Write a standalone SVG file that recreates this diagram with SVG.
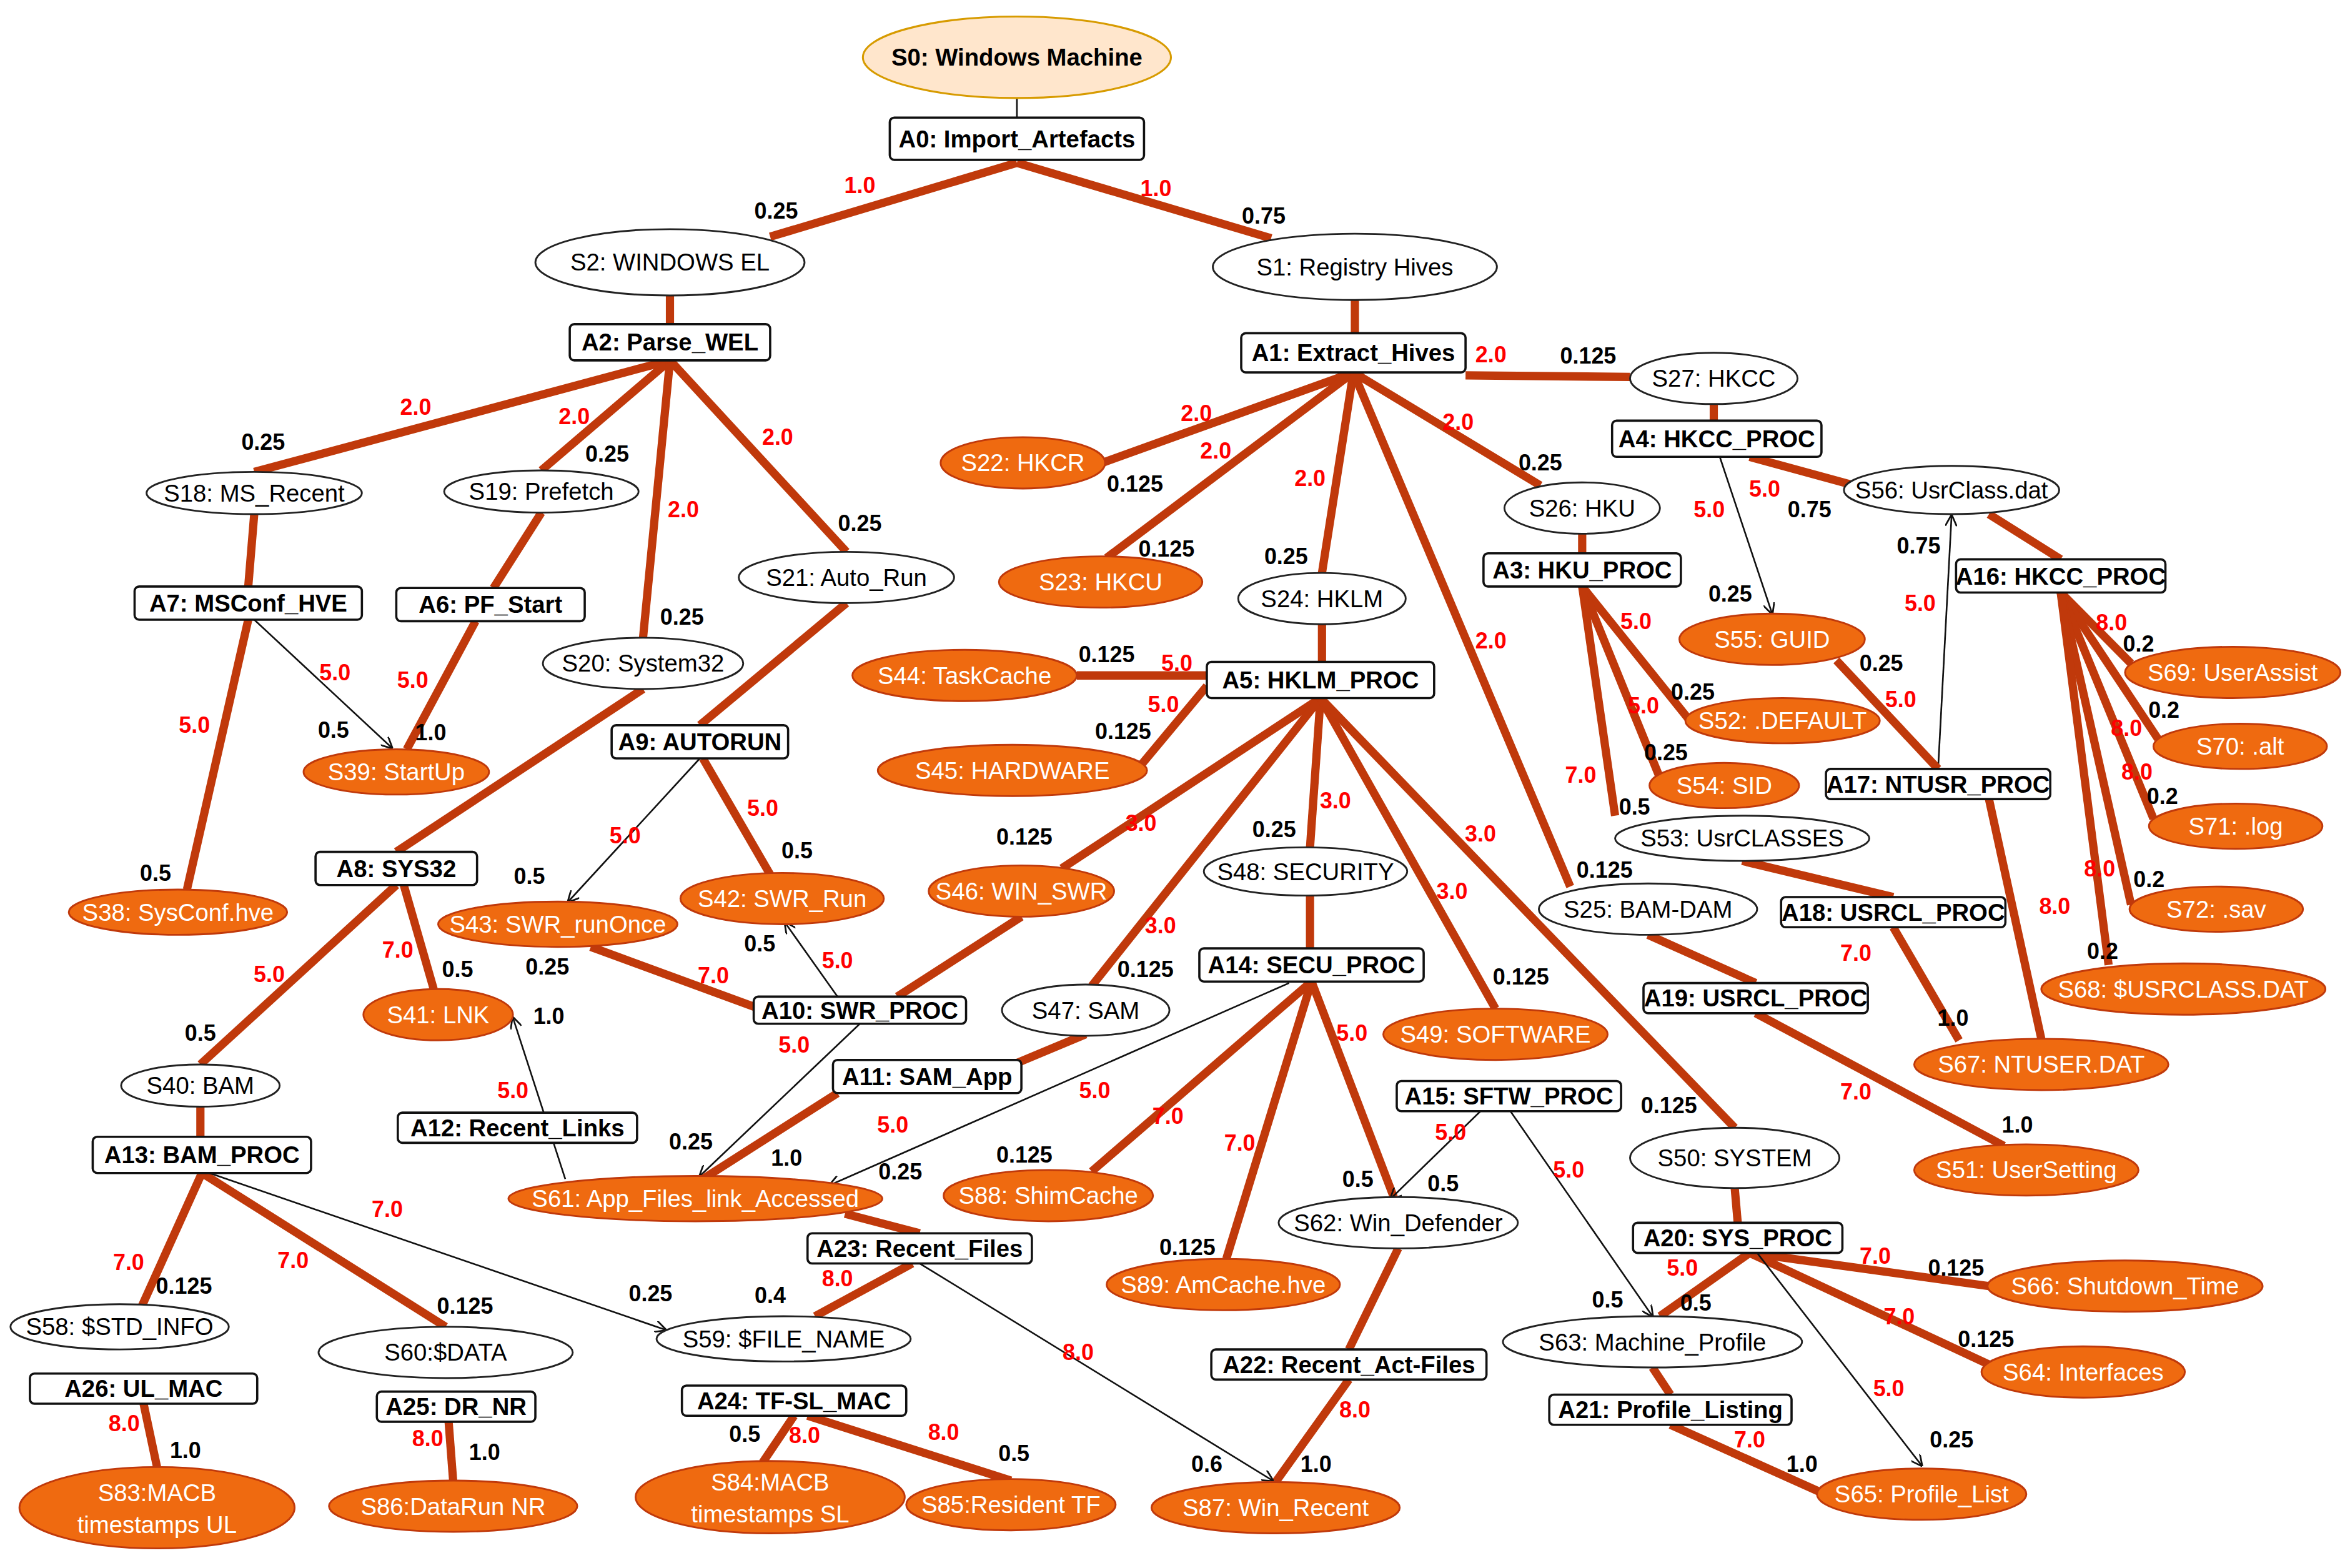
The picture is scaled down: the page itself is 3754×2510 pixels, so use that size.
<svg xmlns="http://www.w3.org/2000/svg" width="3754" height="2510" viewBox="0 0 3754 2510">
<style>
text{font-family:"Liberation Sans",Arial,sans-serif;font-size:16px;text-anchor:middle;dominant-baseline:central}
.s ellipse{fill:#fff;stroke:#222;stroke-width:1.2}
.o ellipse{fill:#EF6A10;stroke:#C0390B;stroke-width:1.2}
.o text{fill:#fff}
.a rect{fill:#fff;stroke:#111;stroke-width:1.5}
.a text{font-weight:bold}
.t{stroke:#C0390B;stroke-width:5.5;stroke-linecap:butt;fill:none}
.n{stroke:#111;stroke-width:1.1;fill:none}
.ar{stroke:#111;stroke-width:1.1;fill:none;marker-end:url(#m)}
.r{fill:#FF0000;font-weight:bold;font-size:15px}
.b{fill:#000;font-weight:bold;font-size:15px}
</style>
<defs><marker id="m" viewBox="0 0 10 10" refX="9" refY="5" markerWidth="7" markerHeight="7" orient="auto"><path d="M0,0 L10,5 L0,10" fill="none" stroke="#111" stroke-width="1.5"/></marker></defs>
<rect width="3754" height="2510" fill="#fff"/>
<g transform="scale(2.394 2.4135)">
<g id="connectors">
<line class="n" x1="680" y1="65" x2="680" y2="78"/>
<line class="t" x1="680" y1="108" x2="515" y2="157"/>
<line class="t" x1="680" y1="108" x2="850" y2="158"/>
<line class="t" x1="448" y1="196" x2="448" y2="215"/>
<line class="t" x1="906" y1="199" x2="906" y2="221"/>
<line class="t" x1="448" y1="239" x2="170" y2="313"/>
<line class="t" x1="448" y1="239" x2="362" y2="312"/>
<line class="t" x1="448" y1="239" x2="430" y2="423"/>
<line class="t" x1="448" y1="239" x2="566" y2="366"/>
<line class="t" x1="905" y1="247" x2="737" y2="307"/>
<line class="t" x1="905" y1="247" x2="740" y2="370"/>
<line class="t" x1="905" y1="247" x2="884" y2="380"/>
<line class="t" x1="905" y1="247" x2="1030" y2="322"/>
<line class="t" x1="905" y1="247" x2="1050" y2="588"/>
<line class="t" x1="980" y1="249" x2="1090" y2="250"/>
<line class="t" x1="1146" y1="268" x2="1146" y2="279"/>
<line class="ar" x1="1150" y1="303" x2="1185" y2="407"/>
<line class="t" x1="1170" y1="303" x2="1240" y2="322"/>
<line class="ar" x1="1296" y1="510" x2="1305" y2="342"/>
<line class="t" x1="1228" y1="438" x2="1296" y2="510"/>
<line class="t" x1="1330" y1="341" x2="1378" y2="371"/>
<line class="t" x1="1378" y1="393" x2="1425" y2="440"/>
<line class="t" x1="1378" y1="393" x2="1443" y2="490"/>
<line class="t" x1="1378" y1="393" x2="1440" y2="543"/>
<line class="t" x1="1378" y1="393" x2="1425" y2="600"/>
<line class="t" x1="1378" y1="393" x2="1410" y2="640"/>
<line class="t" x1="170" y1="341" x2="166" y2="389"/>
<line class="t" x1="166" y1="411" x2="125" y2="590"/>
<line class="ar" x1="170" y1="411" x2="262" y2="496"/>
<line class="t" x1="362" y1="340" x2="330" y2="390"/>
<line class="t" x1="318" y1="412" x2="272" y2="497"/>
<line class="t" x1="430" y1="457" x2="265" y2="565"/>
<line class="t" x1="566" y1="400" x2="468" y2="481"/>
<line class="ar" x1="468" y1="503" x2="380" y2="598"/>
<line class="t" x1="470" y1="503" x2="515" y2="580"/>
<line class="t" x1="265" y1="587" x2="134" y2="706"/>
<line class="t" x1="270" y1="587" x2="290" y2="656"/>
<line class="t" x1="395" y1="628" x2="505" y2="668"/>
<line class="ar" x1="560" y1="661" x2="525" y2="612"/>
<line class="t" x1="683" y1="608" x2="600" y2="661"/>
<line class="t" x1="884" y1="414" x2="884" y2="439"/>
<line class="t" x1="720" y1="448" x2="807" y2="448"/>
<line class="t" x1="760" y1="511" x2="807" y2="455"/>
<line class="t" x1="883" y1="463" x2="710" y2="576"/>
<line class="t" x1="883" y1="463" x2="730" y2="654"/>
<line class="t" x1="883" y1="463" x2="876" y2="562"/>
<line class="t" x1="883" y1="463" x2="1000" y2="669"/>
<line class="t" x1="883" y1="463" x2="1160" y2="748"/>
<line class="t" x1="876" y1="594" x2="876" y2="629"/>
<line class="t" x1="877" y1="651" x2="730" y2="777"/>
<line class="t" x1="877" y1="651" x2="820" y2="835"/>
<line class="t" x1="877" y1="651" x2="932" y2="794"/>
<line class="ar" x1="862" y1="652" x2="555" y2="786"/>
<line class="ar" x1="575" y1="679" x2="468" y2="780"/>
<line class="t" x1="726" y1="686" x2="680" y2="705"/>
<line class="t" x1="560" y1="725" x2="470" y2="782"/>
<line class="t" x1="935" y1="828" x2="902" y2="895"/>
<line class="t" x1="902" y1="915" x2="853" y2="983"/>
<line class="ar" x1="990" y1="737" x2="930" y2="795"/>
<line class="ar" x1="1010" y1="737" x2="1105" y2="873"/>
<line class="ar" x1="378" y1="782" x2="343" y2="675"/>
<line class="t" x1="134" y1="734" x2="134" y2="754"/>
<line class="t" x1="135" y1="778" x2="95" y2="866"/>
<line class="t" x1="135" y1="778" x2="298" y2="880"/>
<line class="ar" x1="140" y1="778" x2="445" y2="882"/>
<line class="t" x1="565" y1="805" x2="615" y2="818"/>
<line class="t" x1="610" y1="838" x2="545" y2="873"/>
<line class="ar" x1="615" y1="838" x2="851" y2="982"/>
<line class="t" x1="531" y1="939" x2="510" y2="970"/>
<line class="t" x1="540" y1="939" x2="676" y2="982"/>
<line class="t" x1="96" y1="931" x2="105" y2="973"/>
<line class="t" x1="300" y1="943" x2="303" y2="982"/>
<line class="t" x1="1102" y1="620" x2="1174" y2="652"/>
<line class="t" x1="1174" y1="672" x2="1340" y2="760"/>
<line class="t" x1="1165" y1="571" x2="1266" y2="595"/>
<line class="t" x1="1266" y1="615" x2="1310" y2="690"/>
<line class="t" x1="1330" y1="530" x2="1365" y2="689"/>
<line class="t" x1="1058" y1="389" x2="1130" y2="478"/>
<line class="t" x1="1058" y1="389" x2="1110" y2="516"/>
<line class="t" x1="1058" y1="389" x2="1080" y2="541"/>
<line class="t" x1="1058" y1="354" x2="1058" y2="367"/>
<line class="t" x1="1160" y1="788" x2="1162" y2="811"/>
<line class="t" x1="1170" y1="831" x2="1330" y2="853"/>
<line class="t" x1="1170" y1="831" x2="1330" y2="905"/>
<line class="t" x1="1170" y1="831" x2="1110" y2="873"/>
<line class="ar" x1="1175" y1="831" x2="1285" y2="972"/>
<line class="t" x1="1105" y1="907" x2="1117" y2="925"/>
<line class="t" x1="1117" y1="945" x2="1218" y2="990"/>
</g>
<g id="S0"><ellipse cx="680" cy="38" rx="103" ry="27" fill="#FFE6CC" stroke="#D79B00" stroke-width="1.3"/><text x="680" y="38" font-weight="bold">S0: Windows Machine</text></g>
<g id="A0" class="a"><rect x="595" y="78" width="170" height="28" rx="3"/><text x="680" y="92">A0: Import_Artefacts</text></g>
<g id="S2" class="s"><ellipse cx="448" cy="174" rx="90" ry="22"/><text x="448" y="174">S2: WINDOWS EL</text></g>
<g id="S1" class="s"><ellipse cx="906" cy="177" rx="95" ry="22"/><text x="906" y="177">S1: Registry Hives</text></g>
<g id="A2" class="a"><rect x="381" y="215" width="134" height="24" rx="3"/><text x="448" y="227">A2: Parse_WEL</text></g>
<g id="A1" class="a"><rect x="830" y="221" width="150" height="26" rx="3"/><text x="905" y="234">A1: Extract_Hives</text></g>
<g id="S27" class="s"><ellipse cx="1146" cy="251" rx="56" ry="17"/><text x="1146" y="251">S27: HKCC</text></g>
<g id="A4" class="a"><rect x="1078" y="279" width="140" height="24" rx="3"/><text x="1148" y="291">A4: HKCC_PROC</text></g>
<g id="S22" class="o"><ellipse cx="684" cy="307" rx="55" ry="17"/><text x="684" y="307">S22: HKCR</text></g>
<g id="S23" class="o"><ellipse cx="736" cy="386" rx="68" ry="17"/><text x="736" y="386">S23: HKCU</text></g>
<g id="S26" class="s"><ellipse cx="1058" cy="337" rx="52" ry="17"/><text x="1058" y="337">S26: HKU</text></g>
<g id="S56" class="s"><ellipse cx="1305" cy="325" rx="72" ry="16"/><text x="1305" y="325">S56: UsrClass.dat</text></g>
<g id="S18" class="s"><ellipse cx="170" cy="327" rx="72" ry="14"/><text x="170" y="327">S18: MS_Recent</text></g>
<g id="S19" class="s"><ellipse cx="362" cy="326" rx="65" ry="14"/><text x="362" y="326">S19: Prefetch</text></g>
<g id="A7" class="a"><rect x="90" y="389" width="152" height="22" rx="3"/><text x="166" y="400">A7: MSConf_HVE</text></g>
<g id="A6" class="a"><rect x="265" y="390" width="126" height="22" rx="3"/><text x="328" y="401">A6: PF_Start</text></g>
<g id="S21" class="s"><ellipse cx="566" cy="383" rx="72" ry="17"/><text x="566" y="383">S21: Auto_Run</text></g>
<g id="A3" class="a"><rect x="992" y="367" width="132" height="22" rx="3"/><text x="1058" y="378">A3: HKU_PROC</text></g>
<g id="S24" class="s"><ellipse cx="884" cy="397" rx="56" ry="17"/><text x="884" y="397">S24: HKLM</text></g>
<g id="A16" class="a"><rect x="1308" y="371" width="140" height="22" rx="3"/><text x="1378" y="382">A16: HKCC_PROC</text></g>
<g id="S55" class="o"><ellipse cx="1185" cy="424" rx="62" ry="17"/><text x="1185" y="424">S55: GUID</text></g>
<g id="S69" class="o"><ellipse cx="1493" cy="446" rx="72" ry="17"/><text x="1493" y="446">S69: UserAssist</text></g>
<g id="S20" class="s"><ellipse cx="430" cy="440" rx="67" ry="17"/><text x="430" y="440">S20: System32</text></g>
<g id="S44" class="o"><ellipse cx="645" cy="448" rx="75" ry="17"/><text x="645" y="448">S44: TaskCache</text></g>
<g id="A5" class="a"><rect x="807" y="439" width="152" height="24" rx="3"/><text x="883" y="451">A5: HKLM_PROC</text></g>
<g id="S52" class="o"><ellipse cx="1192" cy="478" rx="65" ry="15"/><text x="1192" y="478">S52: .DEFAULT</text></g>
<g id="S70" class="o"><ellipse cx="1498" cy="495" rx="58" ry="15"/><text x="1498" y="495">S70: .alt</text></g>
<g id="S39" class="o"><ellipse cx="265" cy="512" rx="62" ry="15"/><text x="265" y="512">S39: StartUp</text></g>
<g id="A9" class="a"><rect x="409" y="481" width="118" height="22" rx="3"/><text x="468" y="492">A9: AUTORUN</text></g>
<g id="S45" class="o"><ellipse cx="677" cy="511" rx="90" ry="17"/><text x="677" y="511">S45: HARDWARE</text></g>
<g id="S54" class="o"><ellipse cx="1153" cy="521" rx="50" ry="15"/><text x="1153" y="521">S54: SID</text></g>
<g id="A17" class="a"><rect x="1221" y="510" width="150" height="20" rx="3"/><text x="1296" y="520">A17: NTUSR_PROC</text></g>
<g id="S71" class="o"><ellipse cx="1495" cy="548" rx="58" ry="15"/><text x="1495" y="548">S71: .log</text></g>
<g id="S53" class="s"><ellipse cx="1165" cy="556" rx="85" ry="15"/><text x="1165" y="556">S53: UsrCLASSES</text></g>
<g id="A8" class="a"><rect x="211" y="565" width="108" height="22" rx="3"/><text x="265" y="576">A8: SYS32</text></g>
<g id="S48" class="s"><ellipse cx="873" cy="578" rx="68" ry="16"/><text x="873" y="578">S48: SECURITY</text></g>
<g id="S46" class="o"><ellipse cx="683" cy="591" rx="62" ry="17"/><text x="683" y="591">S46: WIN_SWR</text></g>
<g id="S42" class="o"><ellipse cx="523" cy="596" rx="68" ry="17"/><text x="523" y="596">S42: SWR_Run</text></g>
<g id="S43" class="o"><ellipse cx="373" cy="613" rx="80" ry="15"/><text x="373" y="613">S43: SWR_runOnce</text></g>
<g id="S38" class="o"><ellipse cx="119" cy="605" rx="73" ry="15"/><text x="119" y="605">S38: SysConf.hve</text></g>
<g id="S25" class="s"><ellipse cx="1102" cy="603" rx="73" ry="17"/><text x="1102" y="603">S25: BAM-DAM</text></g>
<g id="A18" class="a"><rect x="1191" y="595" width="150" height="20" rx="3"/><text x="1266" y="605">A18: USRCL_PROC</text></g>
<g id="S72" class="o"><ellipse cx="1482" cy="603" rx="58" ry="15"/><text x="1482" y="603">S72: .sav</text></g>
<g id="A14" class="a"><rect x="802" y="629" width="150" height="22" rx="3"/><text x="877" y="640">A14: SECU_PROC</text></g>
<g id="S68" class="o"><ellipse cx="1460" cy="656" rx="95" ry="17"/><text x="1460" y="656">S68: $USRCLASS.DAT</text></g>
<g id="S41" class="o"><ellipse cx="293" cy="673" rx="50" ry="17"/><text x="293" y="673">S41: LNK</text></g>
<g id="A10" class="a"><rect x="504" y="661" width="142" height="18" rx="3"/><text x="575" y="670">A10: SWR_PROC</text></g>
<g id="S47" class="s"><ellipse cx="726" cy="670" rx="56" ry="17"/><text x="726" y="670">S47: SAM</text></g>
<g id="A19" class="a"><rect x="1099" y="652" width="150" height="20" rx="3"/><text x="1174" y="662">A19: USRCL_PROC</text></g>
<g id="S49" class="o"><ellipse cx="1000" cy="686" rx="75" ry="17"/><text x="1000" y="686">S49: SOFTWARE</text></g>
<g id="S67" class="o"><ellipse cx="1365" cy="706" rx="85" ry="17"/><text x="1365" y="706">S67: NTUSER.DAT</text></g>
<g id="S40" class="s"><ellipse cx="134" cy="720" rx="53" ry="14"/><text x="134" y="720">S40: BAM</text></g>
<g id="A11" class="a"><rect x="557" y="703" width="126" height="22" rx="3"/><text x="620" y="714">A11: SAM_App</text></g>
<g id="A15" class="a"><rect x="934" y="717" width="150" height="20" rx="3"/><text x="1009" y="727">A15: SFTW_PROC</text></g>
<g id="A12" class="a"><rect x="266" y="738" width="160" height="20" rx="3"/><text x="346" y="748">A12: Recent_Links</text></g>
<g id="A13" class="a"><rect x="62" y="754" width="146" height="24" rx="3"/><text x="135" y="766">A13: BAM_PROC</text></g>
<g id="S50" class="s"><ellipse cx="1160" cy="768" rx="70" ry="20"/><text x="1160" y="768">S50: SYSTEM</text></g>
<g id="S51" class="o"><ellipse cx="1355" cy="776" rx="75" ry="17"/><text x="1355" y="776">S51: UserSetting</text></g>
<g id="S61" class="o"><ellipse cx="465" cy="795" rx="125" ry="15"/><text x="465" y="795">S61: App_Files_link_Accessed</text></g>
<g id="S88" class="o"><ellipse cx="701" cy="793" rx="70" ry="17"/><text x="701" y="793">S88: ShimCache</text></g>
<g id="S62" class="s"><ellipse cx="935" cy="811" rx="80" ry="17"/><text x="935" y="811">S62: Win_Defender</text></g>
<g id="A23" class="a"><rect x="540" y="818" width="150" height="20" rx="3"/><text x="615" y="828">A23: Recent_Files</text></g>
<g id="A20" class="a"><rect x="1092" y="811" width="140" height="20" rx="3"/><text x="1162" y="821">A20: SYS_PROC</text></g>
<g id="S66" class="o"><ellipse cx="1421" cy="853" rx="92" ry="17"/><text x="1421" y="853">S66: Shutdown_Time</text></g>
<g id="S89" class="o"><ellipse cx="818" cy="852" rx="78" ry="17"/><text x="818" y="852">S89: AmCache.hve</text></g>
<g id="S58" class="s"><ellipse cx="80" cy="880" rx="73" ry="15"/><text x="80" y="880">S58: $STD_INFO</text></g>
<g id="S60" class="s"><ellipse cx="298" cy="897" rx="85" ry="17"/><text x="298" y="897">S60:$DATA</text></g>
<g id="S59" class="s"><ellipse cx="524" cy="888" rx="85" ry="15"/><text x="524" y="888">S59: $FILE_NAME</text></g>
<g id="S63" class="s"><ellipse cx="1105" cy="890" rx="100" ry="17"/><text x="1105" y="890">S63: Machine_Profile</text></g>
<g id="S64" class="o"><ellipse cx="1393" cy="910" rx="68" ry="17"/><text x="1393" y="910">S64: Interfaces</text></g>
<g id="A22" class="a"><rect x="810" y="895" width="184" height="20" rx="3"/><text x="902" y="905">A22: Recent_Act-Files</text></g>
<g id="A26" class="a"><rect x="20" y="911" width="152" height="20" rx="3"/><text x="96" y="921">A26: UL_MAC</text></g>
<g id="A25" class="a"><rect x="252" y="923" width="106" height="20" rx="3"/><text x="305" y="933">A25: DR_NR</text></g>
<g id="A24" class="a"><rect x="456" y="919" width="150" height="20" rx="3"/><text x="531" y="929">A24: TF-SL_MAC</text></g>
<g id="A21" class="a"><rect x="1036" y="925" width="162" height="20" rx="3"/><text x="1117" y="935">A21: Profile_Listing</text></g>
<g id="S83" class="o"><ellipse cx="105" cy="1000" rx="92" ry="27"/><text x="105" y="990">S83:MACB</text><text x="105" y="1011">timestamps UL</text></g>
<g id="S86" class="o"><ellipse cx="303" cy="999" rx="83" ry="17"/><text x="303" y="999">S86:DataRun NR</text></g>
<g id="S84" class="o"><ellipse cx="515" cy="993" rx="90" ry="24"/><text x="515" y="983">S84:MACB</text><text x="515" y="1004">timestamps SL</text></g>
<g id="S85" class="o"><ellipse cx="676" cy="998" rx="70" ry="17"/><text x="676" y="998">S85:Resident TF</text></g>
<g id="S87" class="o"><ellipse cx="853" cy="1000" rx="83" ry="17"/><text x="853" y="1000">S87: Win_Recent</text></g>
<g id="S65" class="o"><ellipse cx="1285" cy="991" rx="70" ry="17"/><text x="1285" y="991">S65: Profile_List</text></g>
<g id="labels">
<text class="r" x="575" y="123">1.0</text><text class="r" x="773" y="125">1.0</text><text class="b" x="519" y="140">0.25</text><text class="b" x="845" y="143">0.75</text>
<text class="r" x="278" y="270">2.0</text><text class="b" x="176" y="293">0.25</text><text class="r" x="384" y="276">2.0</text><text class="b" x="406" y="301">0.25</text>
<text class="r" x="457" y="338">2.0</text><text class="b" x="456" y="409">0.25</text><text class="r" x="520" y="290">2.0</text><text class="b" x="575" y="347">0.25</text>
<text class="r" x="997" y="235">2.0</text><text class="b" x="1062" y="236">0.125</text>
<text class="r" x="800" y="274">2.0</text><text class="b" x="759" y="321">0.125</text><text class="r" x="813" y="299">2.0</text><text class="b" x="780" y="364">0.125</text>
<text class="r" x="876" y="317">2.0</text><text class="b" x="860" y="369">0.25</text><text class="r" x="975" y="280">2.0</text><text class="b" x="1030" y="307">0.25</text>
<text class="r" x="997" y="425">2.0</text><text class="b" x="1073" y="577">0.125</text>
<text class="r" x="1180" y="324">5.0</text><text class="r" x="1143" y="338">5.0</text><text class="b" x="1210" y="338">0.75</text><text class="b" x="1157" y="394">0.25</text>
<text class="b" x="1283" y="362">0.75</text><text class="r" x="1284" y="400">5.0</text><text class="b" x="1258" y="440">0.25</text><text class="r" x="1271" y="464">5.0</text>
<text class="r" x="1412" y="413">8.0</text><text class="b" x="1430" y="427">0.2</text><text class="b" x="1447" y="471">0.2</text><text class="r" x="1422" y="483">8.0</text>
<text class="r" x="1429" y="512">8.0</text><text class="b" x="1446" y="528">0.2</text><text class="r" x="1404" y="576">8.0</text><text class="b" x="1437" y="583">0.2</text>
<text class="b" x="1406" y="631">0.2</text><text class="r" x="1374" y="601">8.0</text>
<text class="r" x="1094" y="412">5.0</text><text class="b" x="1132" y="459">0.25</text><text class="r" x="1099" y="468">5.0</text><text class="b" x="1114" y="499">0.25</text>
<text class="r" x="1057" y="514">7.0</text><text class="b" x="1093" y="535">0.5</text>
<text class="r" x="224" y="446">5.0</text><text class="b" x="223" y="484">0.5</text><text class="r" x="276" y="451">5.0</text><text class="b" x="288" y="486">1.0</text>
<text class="r" x="130" y="481">5.0</text><text class="b" x="104" y="579">0.5</text>
<text class="b" x="740" y="434">0.125</text><text class="r" x="787" y="440">5.0</text><text class="r" x="778" y="467">5.0</text><text class="b" x="751" y="485">0.125</text>
<text class="r" x="510" y="536">5.0</text><text class="b" x="533" y="564">0.5</text><text class="r" x="418" y="554">5.0</text><text class="b" x="354" y="581">0.5</text>
<text class="b" x="685" y="555">0.125</text><text class="r" x="763" y="546">3.0</text><text class="b" x="852" y="550">0.25</text><text class="r" x="893" y="531">3.0</text>
<text class="r" x="776" y="614">3.0</text><text class="b" x="766" y="643">0.125</text><text class="r" x="971" y="591">3.0</text><text class="b" x="1017" y="648">0.125</text>
<text class="r" x="990" y="553">3.0</text><text class="b" x="1116" y="733">0.125</text>
<text class="r" x="180" y="646">5.0</text><text class="b" x="134" y="685">0.5</text><text class="r" x="266" y="630">7.0</text><text class="b" x="306" y="643">0.5</text>
<text class="b" x="366" y="641">0.25</text><text class="r" x="477" y="647">7.0</text><text class="b" x="508" y="626">0.5</text><text class="r" x="560" y="637">5.0</text>
<text class="b" x="367" y="674">1.0</text><text class="r" x="343" y="723">5.0</text>
<text class="r" x="531" y="693">5.0</text><text class="r" x="597" y="746">5.0</text><text class="b" x="462" y="757">0.25</text><text class="b" x="526" y="768">1.0</text><text class="b" x="602" y="777">0.25</text>
<text class="r" x="732" y="723">5.0</text><text class="r" x="781" y="740">7.0</text><text class="b" x="685" y="766">0.125</text><text class="r" x="829" y="758">7.0</text><text class="b" x="794" y="827">0.125</text>
<text class="r" x="904" y="685">5.0</text><text class="b" x="908" y="782">0.5</text><text class="b" x="965" y="785">0.5</text><text class="r" x="970" y="751">5.0</text>
<text class="r" x="1049" y="776">5.0</text><text class="b" x="1075" y="862">0.5</text>
<text class="r" x="1241" y="632">7.0</text><text class="b" x="1306" y="675">1.0</text><text class="r" x="1241" y="724">7.0</text><text class="b" x="1349" y="746">1.0</text>
<text class="r" x="259" y="802">7.0</text><text class="r" x="86" y="837">7.0</text><text class="b" x="123" y="853">0.125</text><text class="r" x="196" y="836">7.0</text><text class="b" x="311" y="866">0.125</text>
<text class="b" x="435" y="858">0.25</text><text class="b" x="515" y="859">0.4</text><text class="r" x="560" y="848">8.0</text><text class="r" x="721" y="897">8.0</text>
<text class="r" x="83" y="944">8.0</text><text class="b" x="124" y="962">1.0</text><text class="r" x="286" y="954">8.0</text><text class="b" x="324" y="963">1.0</text>
<text class="b" x="498" y="951">0.5</text><text class="r" x="538" y="952">8.0</text><text class="r" x="631" y="950">8.0</text><text class="b" x="678" y="964">0.5</text>
<text class="b" x="807" y="971">0.6</text><text class="b" x="880" y="971">1.0</text><text class="r" x="906" y="935">8.0</text>
<text class="r" x="1125" y="841">5.0</text><text class="b" x="1134" y="864">0.5</text><text class="r" x="1254" y="833">7.0</text><text class="b" x="1308" y="841">0.125</text>
<text class="r" x="1270" y="873">7.0</text><text class="b" x="1328" y="888">0.125</text><text class="r" x="1263" y="921">5.0</text><text class="b" x="1305" y="955">0.25</text>
<text class="r" x="1170" y="955">7.0</text><text class="b" x="1205" y="971">1.0</text>
</g>
</g>
</svg>
